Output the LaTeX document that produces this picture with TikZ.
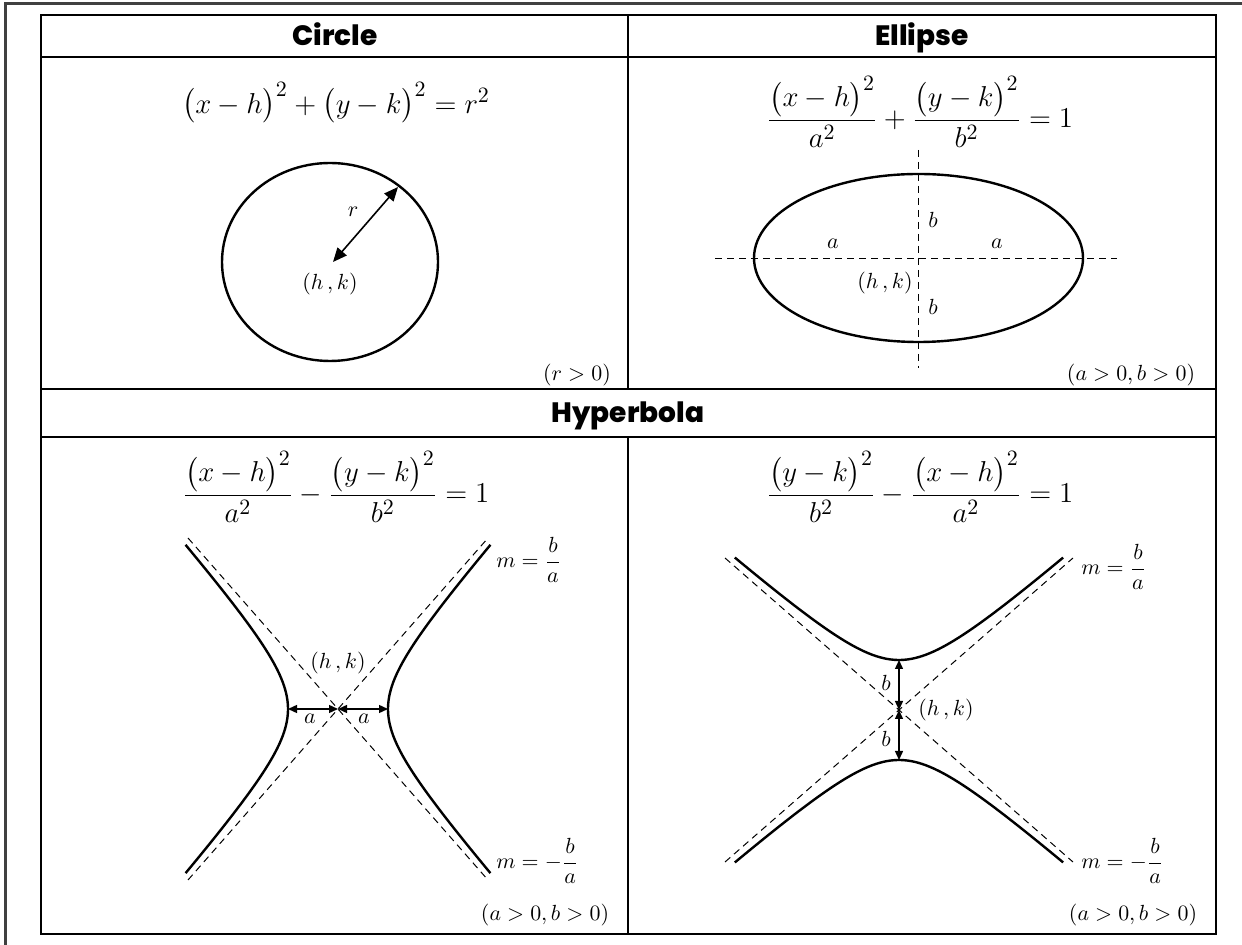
\documentclass[tikz,border=0pt]{standalone}
\usepackage{fontspec}
\usepackage{amsmath}
\usetikzlibrary{arrows.meta}
\IfFontExistsTF{Poppins ExtraBold}{\newfontfamily\hdrfont{Poppins ExtraBold}}{\newfontfamily\hdrfont[UprightFont={* Bold}]{Poppins}}
\tikzset{
  frame/.style={line width=1.5pt,black!75},
  grid/.style={line width=1pt},
  head/.style={font=\hdrfont\fontsize{14}{16}\selectfont,inner sep=0pt,anchor=base},
  eqn/.style={font=\fontsize{15}{18}\selectfont,inner sep=0pt},
  lbl/.style={font=\fontsize{11}{13}\selectfont,inner sep=1pt},
  curve/.style={line width=1.2pt},
  asym/.style={line width=0.5pt,dash pattern=on 3.5pt off 2.5pt},
  bigarr/.style={{Triangle[length=7pt,width=6pt]}-{Triangle[length=7pt,width=6pt]},line width=0.8pt},
  smarr/.style={{Triangle[length=4.5pt,width=4pt]}-{Triangle[length=4.5pt,width=4pt]},line width=0.7pt},
}
\begin{document}
\begin{tikzpicture}[x=0.5pt,y=-0.5pt]
\path[fill=white,use as bounding box] (0,0) rectangle (1242,945);
\draw[frame] (5,945) -- (5,4) -- (1242,4);
% table
\draw[grid] (41,15) rectangle (1216,934);
\draw[grid] (41,57) -- (1216,57) (41,389) -- (1216,389) (41,437) -- (1216,437);
\draw[grid] (628,15) -- (628,389) (628,437) -- (628,934);
\node[head] (hc) at (335,46) {Circle};
\node[head] (he) at (922,46) {Ellipse};
\node[head] (hh) at (628,423) {Hyperbola};
% circle
\node[eqn] (eqc) at (336,103) {$\bigl(x-h\bigr)^2+\bigl(y-k\bigr)^2=r^2$};
\draw[curve] (330,262) ellipse [x radius=108,y radius=99];
\coordinate (cc) at (333,262);
\coordinate (cr) at (398,187);
\draw[bigarr] (cc) -- (cr);
\node[lbl] (rl) at (353,212) {$r$};
\node[lbl] (ck) at (330,284) {$(h\,,k)$};
\node[lbl] (cg) at (577,375) {$(r>0)$};
% ellipse
\node[eqn] (eqe) at (920,112) {$\dfrac{\bigl(x-h\bigr)^2}{a^2}+\dfrac{\bigl(y-k\bigr)^2}{b^2}=1$};
\draw[curve] (918.5,258) ellipse [x radius=164.5,y radius=84];
\coordinate (el) at (715,259);
\coordinate (er) at (1117,259);
\coordinate (et) at (918,150);
\coordinate (eb) at (918,368);
\draw[asym] (el) -- (er);
\draw[asym] (et) -- (eb);
\node[lbl] (ea1) at (833,244) {$a$};
\node[lbl] (ea2) at (997,244) {$a$};
\node[lbl] (eb1) at (933,220) {$b$};
\node[lbl] (eb2) at (933,307) {$b$};
\node[lbl] (ek) at (885,283) {$(h\,,k)$};
\node[lbl] (eg) at (1131,375) {$(a>0,b>0)$};
% horizontal hyperbola
\node[eqn] (eqh) at (336,487) {$\dfrac{\bigl(x-h\bigr)^2}{a^2}-\dfrac{\bigl(y-k\bigr)^2}{b^2}=1$};
\coordinate (hc0) at (338,709);
\coordinate (hl) at (288,709);
\coordinate (hr) at (388,709);
\coordinate (h1) at (188,538);
\coordinate (h2) at (488,880);
\coordinate (h3) at (488,538);
\coordinate (h4) at (188,880);
\draw[asym] (h1) -- (h2);
\draw[asym] (h4) -- (h3);
\draw[curve] plot[domain=-1.78:1.78,samples=60,smooth] ({338-50*cosh(\x)},{709+57*sinh(\x)});
\draw[curve] plot[domain=-1.78:1.78,samples=60,smooth] ({338+50*cosh(\x)},{709+57*sinh(\x)});
\draw[smarr] (hl) -- (hc0);
\draw[smarr] (hc0) -- (hr);
\node[lbl] (hk) at (338,663) {$(h\,,k)$};
\node[lbl] (ha1) at (310,719) {$a$};
\node[lbl] (ha2) at (364,719) {$a$};
\node[lbl,anchor=west] (hm1) at (494,560) {$m=\dfrac{b}{a}$};
\node[lbl,anchor=west] (hm2) at (494,861) {$m=-\dfrac{b}{a}$};
\node[lbl] (hg) at (545,915) {$(a>0,b>0)$};
% vertical hyperbola
\node[eqn] (eqv) at (920,487) {$\dfrac{\bigl(y-k\bigr)^2}{b^2}-\dfrac{\bigl(x-h\bigr)^2}{a^2}=1$};
\coordinate (vc0) at (899,710);
\coordinate (vt) at (899,660);
\coordinate (vb) at (899,760);
\coordinate (v1) at (725,558);
\coordinate (v2) at (1073,862);
\coordinate (v3) at (1073,558);
\coordinate (v4) at (725,862);
\draw[asym] (v1) -- (v2);
\draw[asym] (v4) -- (v3);
\draw[curve] plot[domain=-1.78:1.78,samples=60,smooth] ({899+57*sinh(\x)},{710-50*cosh(\x)});
\draw[curve] plot[domain=-1.78:1.78,samples=60,smooth] ({899+57*sinh(\x)},{710+50*cosh(\x)});
\draw[smarr] (vt) -- (vc0);
\draw[smarr] (vc0) -- (vb);
\node[lbl] (vb1) at (886,683) {$b$};
\node[lbl] (vb2) at (886,739) {$b$};
\node[lbl] (vk) at (946,710) {$(h\,,k)$};
\node[lbl,anchor=west] (vm1) at (1079,567) {$m=\dfrac{b}{a}$};
\node[lbl,anchor=west] (vm2) at (1079,861) {$m=-\dfrac{b}{a}$};
\node[lbl] (vg) at (1133,915) {$(a>0,b>0)$};
\end{tikzpicture}
\end{document}
